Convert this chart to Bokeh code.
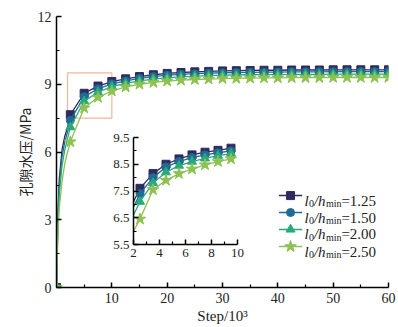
from bokeh.plotting import figure
from bokeh.models import Range1d, FixedTicker, Label
from bokeh.layouts import column
from bokeh.embed import file_html
from bokeh.resources import INLINE

# ---------------- data ----------------
series_labels = ["1.25", "1.50", "2.00", "2.50"]
colors = ["#2e2b5e", "#1f6b93", "#29a97b", "#8dc152"]
markers = ["square", "circle", "triangle", "star"]
marker_sizes = [8, 8, 9, 12]

# early (unmarked) part of the curves, Step/10^3
ramp_x = [0, 0.25, 0.5, 1, 1.5, 2]
ramp_125 = [0, 3.2, 4.8, 6.1, 6.7, 7.1]
ramp_150 = [0, 3.0, 4.5, 5.8, 6.45, 6.9]
ramp_200 = [0, 2.7, 4.1, 5.4, 6.1, 6.6]
ramp_250 = [0, 2.3, 3.5, 4.7, 5.5, 6.0]

# marked points of the main chart
main_x = [0, 2.5, 5, 7.5, 10, 12.5, 15, 17.5, 20, 22.5, 25, 27.5, 30,
          32.5, 35, 37.5, 40, 42.5, 45, 47.5, 50, 52.5, 55, 57.5, 60]
main_125 = [0, 7.65, 8.6, 8.92, 9.12, 9.24, 9.34, 9.42, 9.48, 9.52, 9.55, 9.57, 9.59,
            9.6, 9.61, 9.62, 9.62, 9.63, 9.63, 9.63, 9.64, 9.64, 9.64, 9.64, 9.64]
main_150 = [0, 7.4, 8.45, 8.8, 9.02, 9.15, 9.26, 9.34, 9.4, 9.44, 9.47, 9.49, 9.51,
            9.52, 9.53, 9.54, 9.54, 9.55, 9.55, 9.55, 9.56, 9.56, 9.56, 9.56, 9.56]
main_200 = [0, 7.1, 8.25, 8.65, 8.9, 9.04, 9.15, 9.23, 9.29, 9.33, 9.36, 9.38, 9.4,
            9.41, 9.42, 9.43, 9.43, 9.44, 9.44, 9.44, 9.45, 9.45, 9.45, 9.45, 9.45]
main_250 = [0, 6.45, 7.95, 8.42, 8.7, 8.88, 9.0, 9.08, 9.14, 9.18, 9.21, 9.23, 9.25,
            9.26, 9.27, 9.28, 9.28, 9.29, 9.29, 9.29, 9.3, 9.3, 9.3, 9.3, 9.3]

# inset (zoom of Step 2..10)
inset_line_x = [2, 2.5, 3.5, 4.5, 5.5, 6.5, 7.5, 8.5, 9.5]
inset_125 = [7.1, 7.6, 8.15, 8.5, 8.7, 8.85, 8.95, 9.02, 9.1]
inset_150 = [6.9, 7.4, 8.0, 8.4, 8.6, 8.75, 8.85, 8.93, 9.0]
inset_200 = [6.6, 7.1, 7.8, 8.2, 8.45, 8.6, 8.72, 8.82, 8.9]
inset_250 = [6.0, 6.45, 7.55, 7.9, 8.15, 8.32, 8.48, 8.6, 8.7]

# zoom window marked on main chart
zoom_x = [2, 10]
zoom_y = [7.5, 9.5]

# ticks
x_major = [10, 20, 30, 40, 50, 60]
x_minor = [5, 15, 25, 35, 45, 55]
y_major = [0, 3, 6, 9, 12]
y_minor = [1.5, 4.5, 7.5, 10.5]
ix_major = [2, 4, 6, 8, 10]
ix_minor = [3, 5, 7, 9]
iy_major = [5.5, 6.5, 7.5, 8.5, 9.5]
iy_minor = [6, 7, 8, 9]

ramps = [ramp_125, ramp_150, ramp_200, ramp_250]
mains = [main_125, main_150, main_200, main_250]
insets = [inset_125, inset_150, inset_200, inset_250]

SERIF = "Liberation Serif"

def style_axes(fig, tick_size, standoff):
    for ax in (fig.xaxis, fig.yaxis):
        ax.axis_line_color = "black"
        ax.axis_line_width = 1.5
        ax.major_tick_line_color = "black"
        ax.major_tick_line_width = 1.5
        ax.minor_tick_line_color = "black"
        ax.minor_tick_line_width = 1.2
        ax.major_tick_in = 5
        ax.major_tick_out = 0
        ax.minor_tick_in = 3
        ax.minor_tick_out = 0
        ax.major_label_text_font = SERIF
        ax.major_label_text_font_size = tick_size
        ax.major_label_text_color = "#222222"
        ax.major_label_standoff = standoff
    fig.grid.visible = False
    fig.outline_line_color = None

# ---------------- main figure ----------------
p = figure(width=398, height=327, x_range=Range1d(0, 60), y_range=Range1d(0, 12),
           output_backend="svg", toolbar_location=None,
           min_border_left=53, min_border_right=10, min_border_top=16, min_border_bottom=40)
style_axes(p, "14px", 5)
p.xaxis.ticker = FixedTicker(ticks=x_major, minor_ticks=x_minor)
p.yaxis.ticker = FixedTicker(ticks=y_major, minor_ticks=y_minor)
p.xaxis.axis_label = "Step/10³"
p.xaxis.axis_label_text_font = SERIF
p.xaxis.axis_label_text_font_size = "15px"
p.xaxis.axis_label_text_font_style = "normal"
p.xaxis.axis_label_text_color = "#222222"
p.xaxis.axis_label_standoff = 2
p.yaxis.axis_label = "孔隙水压/MPa"
p.yaxis.axis_label_text_font = "Noto Sans CJK SC"
p.yaxis.axis_label_text_font_size = "14px"
p.yaxis.axis_label_text_font_style = "normal"
p.yaxis.axis_label_text_color = "#222222"
p.yaxis.axis_label_standoff = 0

p.quad(left=[zoom_x[0]], right=[zoom_x[1]], bottom=[zoom_y[0]], top=[zoom_y[1]],
       fill_alpha=0, line_color="#f6b59c", line_width=1.2)

for r, m, c, mk, ms in zip(ramps, mains, colors, markers, marker_sizes):
    p.line(ramp_x + main_x[1:], r + m[1:], line_color=c, line_width=1.3)
    p.scatter(main_x, m, marker=mk, size=ms, fill_color=c, line_color=c)

# legend (hand built for subscripts)
leg_y = [4.07, 3.32, 2.57, 1.81]
leg_line = [40.2, 44.4]
leg_mark_x = 42.3
leg_text_x = 44.8
for yy, c, mk, ms, lab in zip(leg_y, colors, markers, marker_sizes, series_labels):
    p.line(leg_line, [yy, yy], line_color=c, line_width=1.5)
    p.scatter([leg_mark_x], [yy], marker=mk, size=ms, fill_color=c, line_color=c)
    pieces = [("l", 0, -5, "15px", "italic"),
              ("0", 4.5, -8, "10px", "normal"),
              ("/h", 9.5, -5, "15px", "italic"),
              ("min", 21.5, -8, "10px", "normal"),
              ("=" + lab, 37, -5, "15px", "normal")]
    for t, xo, yo, fs, st in pieces:
        p.add_layout(Label(x=leg_text_x, y=yy, x_offset=xo, y_offset=yo, text=t,
                           text_font=SERIF, text_font_size=fs, text_font_style=st,
                           text_baseline="alphabetic", text_align="left", text_color="#222222"))

# ---------------- inset figure ----------------
q = figure(frame_width=104, frame_height=107, x_range=Range1d(2, 10), y_range=Range1d(5.5, 9.5),
           output_backend="svg", toolbar_location=None,
           min_border_left=56, min_border_right=10, min_border_top=6, min_border_bottom=24)
style_axes(q, "13px", 4)
for ax in (q.xaxis, q.yaxis):
    ax.axis_label = None
    ax.axis_label_standoff = 0
q.xaxis.ticker = FixedTicker(ticks=ix_major, minor_ticks=ix_minor)
q.yaxis.ticker = FixedTicker(ticks=iy_major, minor_ticks=iy_minor)
q.background_fill_alpha = 0
q.border_fill_alpha = 0
for ys, c, mk, ms in zip(insets, colors, markers, marker_sizes):
    q.line(inset_line_x, ys, line_color=c, line_width=1.3)
    q.scatter(inset_line_x[1:], ys[1:], marker=mk, size=ms, fill_color=c, line_color=c)
q.styles = {"position": "absolute", "left": "77px", "top": "131px"}

layout = column(p, q)
open("out.html", "w").write(file_html(layout, INLINE))
